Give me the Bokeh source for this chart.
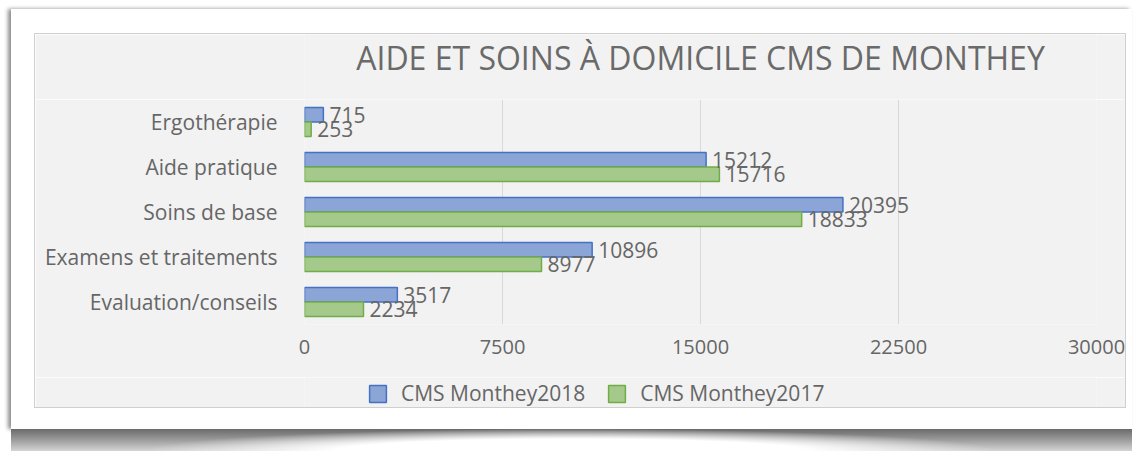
from bokeh.plotting import figure
from bokeh.models import (FactorRange, Range1d, FixedTicker, Legend, LegendItem,
                          ColumnDataSource, Div)
from bokeh.layouts import column
from bokeh.transform import dodge
from bokeh.core.properties import value
from bokeh.embed import file_html
from bokeh.resources import INLINE

# ---- data ----
categories = ["Evaluation/conseils", "Examens et traitements", "Soins de base",
              "Aide pratique", "Ergothérapie"]
values_2018 = [3517, 10896, 20395, 15212, 715]
values_2017 = [2234, 8977, 18833, 15716, 253]
series_names = ["CMS Monthey2018", "CMS Monthey2017"]
x_ticks = [0, 7500, 15000, 22500, 30000]
title_text = "AIDE ET SOINS À DOMICILE CMS DE MONTHEY"

FONT = "Open Sans"
TXT = "#666666"
PANEL = "#f2f2f2"
C18 = dict(fill_color="#8aa5d6", line_color="#4472c4", line_width=1.5)
C17 = dict(fill_color="#a4c98b", line_color="#70ad47", line_width=1.5)
BORDERS = dict(min_border_left=269, min_border_right=29)

src = ColumnDataSource(dict(
    cat=categories,
    v18=values_2018,
    v17=values_2017,
    l18=[str(v) for v in values_2018],
    l17=[str(v) for v in values_2017],
))

# ---- title strip ----
tp = figure(width=1090, height=65, x_range=Range1d(0, 1), y_range=Range1d(0, 65),
            output_backend="svg", toolbar_location=None,
            x_axis_location=None, y_axis_location=None,
            min_border_top=0, min_border_bottom=0, **BORDERS,
            background_fill_color=PANEL, border_fill_color=PANEL,
            outline_line_color=None)
tp.grid.visible = False
tp.text(x=[0.5], y=[42], text=[title_text], text_align="center",
        text_baseline="middle", text_font=value(FONT),
        text_font_size="32px", text_color="#6a6a6a")

# ---- main chart ----
p = figure(width=1090, height=278,
           y_range=FactorRange(factors=categories),
           x_range=Range1d(x_ticks[0], x_ticks[-1]),
           output_backend="svg", toolbar_location=None,
           min_border_top=0, min_border_bottom=53, **BORDERS,
           background_fill_color=PANEL, border_fill_color=PANEL,
           outline_line_color=None)

off = 0.16
p.hbar(y=dodge("cat", off, range=p.y_range), left=0, right="v18",
       height=0.32, source=src, **C18)
p.hbar(y=dodge("cat", -off, range=p.y_range), left=0, right="v17",
       height=0.32, source=src, **C17)

for col, lab, dy in (("v18", "l18", off), ("v17", "l17", -off)):
    p.text(x=col, y=dodge("cat", dy, range=p.y_range), text=lab,
           x_offset=6, text_align="left", text_baseline="middle",
           text_font=value(FONT), text_font_size="21px", text_color=TXT,
           source=src)

p.xaxis.ticker = FixedTicker(ticks=x_ticks)
for ax in (p.xaxis, p.yaxis):
    ax.axis_line_color = None
    ax.major_tick_line_color = None
    ax.minor_tick_line_color = None
    ax.major_tick_in = 0
    ax.major_tick_out = 0
    ax.minor_tick_out = 0
    ax.major_label_text_font = FONT
    ax.major_label_text_color = TXT
p.xaxis.major_label_text_font_size = "20px"
p.xaxis.major_label_standoff = 15
p.yaxis.major_label_text_font_size = "21px"
p.yaxis.major_label_standoff = 27

p.xgrid.grid_line_color = "#d9d9d9"
p.xgrid.grid_line_width = 1
p.ygrid.grid_line_color = None

# ---- legend strip ----
lp = figure(width=1090, height=30, x_range=Range1d(0, 1), y_range=Range1d(0, 1),
            output_backend="svg", toolbar_location=None,
            x_axis_location=None, y_axis_location=None,
            min_border_top=0, min_border_bottom=0, **BORDERS,
            background_fill_color=PANEL, border_fill_color=PANEL,
            outline_line_color=None)
lp.grid.visible = False
# hidden series proxies that give the legend keys their styles
g18 = lp.hbar(y="v18", left=0, right="v18", height=1, source=src,
              visible=False, **C18)
g17 = lp.hbar(y="v17", left=0, right="v17", height=1, source=src,
              visible=False, **C17)
legend = Legend(items=[LegendItem(label=series_names[0], renderers=[g18]),
                       LegendItem(label=series_names[1], renderers=[g17])],
                orientation="horizontal", location=(63, 0),
                label_text_font=FONT, label_text_font_size="21px",
                label_text_color=TXT, glyph_width=21, glyph_height=21,
                label_standoff=13, spacing=21, padding=0, margin=0,
                inactive_fill_alpha=0,
                border_line_color=None, background_fill_alpha=0)
lp.add_layout(legend)

panel = column(tp, p, lp, margin=(24, 6, 21, 23), spacing=0,
               styles={"border": "1px solid #cfcfcf"})

shadow = Div(text="", width=1121, height=22, margin=(0, 0, 0, 0),
             styles={"background": "radial-gradient(ellipse 38% 100% at 50% 100%, #ffffff 55%, rgba(255,255,255,0) 100%), linear-gradient(to bottom, #6a6a6a 0%, #979797 45%, #d4d4d4 100%)"})

card = column(panel, margin=(0, 0, 0, 0),
              styles={"background-color": "#ffffff",
                      "box-shadow": "-3px 0px 4px rgba(0,0,0,0.45)"})
root = column(card, shadow, margin=(9, 0, 0, 11))

open("out.html", "w").write(file_html(root, INLINE))
